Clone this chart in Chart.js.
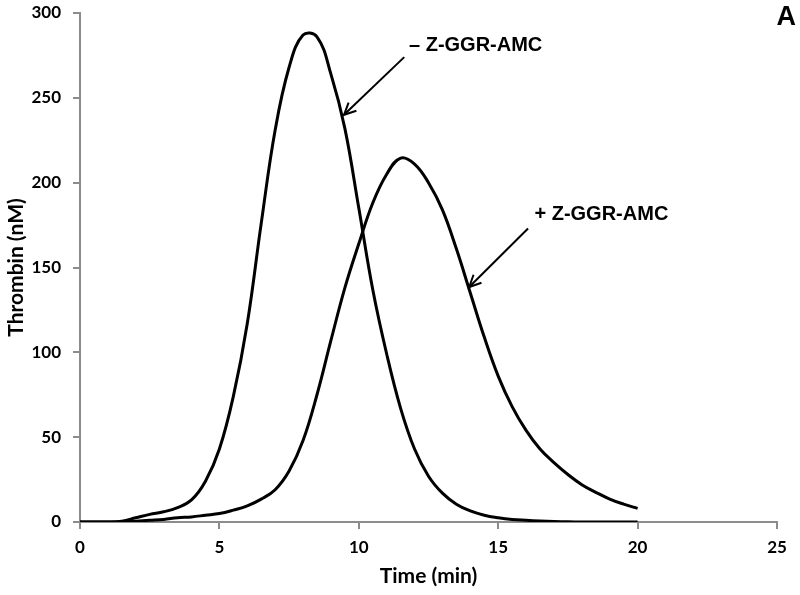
<!DOCTYPE html>
<html>
<head>
<meta charset="utf-8">
<script src="https://cdn.jsdelivr.net/npm/chart.js@4.4.0/dist/chart.umd.min.js"></script>
<style>
  html, body { margin: 0; padding: 0; background: #fff; }
  #wrap { width: 800px; height: 595px; }
</style>
</head>
<body>
<div id="wrap"><canvas id="myChart" width="800" height="595"></canvas></div>
<script>
// time (min), one reading every half minute, shared by both curves
const timeMin = [0, 0.5, 1, 1.5, 2, 2.5, 3, 3.5, 4, 4.5, 5, 5.5, 6, 6.5, 7, 7.5, 8, 8.5, 9, 9.5, 10, 10.5, 11, 11.5, 12, 12.5, 13, 13.5, 14, 14.5, 15, 15.5, 16, 16.5, 17, 17.5, 18, 18.5, 19, 19.5, 20];
// thrombin (nM) without substrate
const thrombinMinus = [0, 0, 0, 0.5, 2.5, 4.5, 6, 8.5, 13, 24, 43, 74, 117, 176, 231, 268, 287, 286, 264, 232, 185, 137, 99, 67, 43, 27, 17, 10.5, 6.5, 4, 2.5, 1.5, 1, 0.6, 0.3, 0.1, 0, 0, 0, 0, 0];
// thrombin (nM) with substrate
const thrombinPlus = [0, 0, 0, 0, 0.5, 1, 1.5, 2.5, 3, 4, 5, 7, 9.5, 13.5, 19, 30, 48, 75, 107, 138, 164, 188, 205, 214.5, 211, 200, 184, 161, 135, 109, 86, 68, 54, 43, 35, 28, 22, 17.5, 13.5, 10.5, 8];

const xTicks = [0, 5, 10, 15, 20, 25];
const yTicks = [0, 50, 100, 150, 200, 250, 300];

// arrow labels, placed in data units
const notes = [
  { text: '\u2013 Z-GGR-AMC', at: [11.8, 281], tail: [11.63, 274], tip: [9.47, 240] },
  { text: '+ Z-GGR-AMC', at: [16.3, 181], tail: [16.07, 173], tip: [13.96, 138.5] }
];
const panelLetter = 'A';

const toPoints = ys => timeMin.map((x, i) => ({ x: x, y: ys[i] }));

const axisGrey = '#8c8c8c';
const tickFont = { family: 'Lato', weight: 'bold', size: 17 };
const titleFont = { family: 'Lato', weight: 'bold', size: 21 };

const notesPlugin = {
  id: 'notes',
  afterDraw(chart) {
    const ctx = chart.ctx;
    const xs = chart.scales.x, ys = chart.scales.y;
    ctx.save();
    ctx.fillStyle = '#000';
    ctx.strokeStyle = '#000';
    ctx.lineWidth = 2;
    ctx.font = 'bold 20px "Liberation Sans", Arial, sans-serif';
    ctx.textBaseline = 'middle';
    ctx.textAlign = 'left';
    notes.forEach(n => {
      ctx.fillText(n.text, xs.getPixelForValue(n.at[0]), ys.getPixelForValue(n.at[1]));
      const x1 = xs.getPixelForValue(n.tail[0]), y1 = ys.getPixelForValue(n.tail[1]);
      const x2 = xs.getPixelForValue(n.tip[0]), y2 = ys.getPixelForValue(n.tip[1]);
      ctx.beginPath();
      ctx.moveTo(x1, y1);
      ctx.lineTo(x2, y2);
      ctx.stroke();
      const ang = Math.atan2(y2 - y1, x2 - x1);
      const len = 13, spread = Math.PI / 7;
      ctx.beginPath();
      ctx.moveTo(x2 - len * Math.cos(ang - spread), y2 - len * Math.sin(ang - spread));
      ctx.lineTo(x2, y2);
      ctx.lineTo(x2 - len * Math.cos(ang + spread), y2 - len * Math.sin(ang + spread));
      ctx.stroke();
    });
    ctx.font = 'bold 27px "Liberation Sans", Arial, sans-serif';
    ctx.textAlign = 'right';
    ctx.fillText(panelLetter, chart.width - 4, 18);
    ctx.restore();
  }
};

const ctx = document.getElementById('myChart').getContext('2d');
new Chart(ctx, {
  type: 'line',
  data: {
    datasets: [
      {
        label: '- Z-GGR-AMC',
        data: toPoints(thrombinMinus),
        borderColor: '#000',
        borderWidth: 3,
        pointRadius: 0,
        fill: false,
        tension: 0.4
      },
      {
        label: '+ Z-GGR-AMC',
        data: toPoints(thrombinPlus),
        borderColor: '#000',
        borderWidth: 3,
        pointRadius: 0,
        fill: false,
        tension: 0.4
      }
    ]
  },
  options: {
    responsive: false,
    animation: false,
    layout: { padding: { top: 13, right: 23, left: 0, bottom: 0 } },
    plugins: {
      legend: { display: false },
      tooltip: { enabled: false }
    },
    scales: {
      x: {
        type: 'linear',
        min: 0,
        max: 25,
        afterBuildTicks: s => { s.ticks = xTicks.map(v => ({ value: v })); },
        afterFit: s => { s.height = 73; s.paddingLeft = 0; s.paddingRight = 0; },
        grid: { drawOnChartArea: false, drawTicks: true, tickLength: 7, color: axisGrey, lineWidth: 2 },
        border: { color: axisGrey, width: 2 },
        ticks: { color: '#000', font: tickFont, padding: 8, maxRotation: 0 },
        title: { display: true, text: 'Time (min)', color: '#000', font: titleFont, padding: { top: 0, bottom: 6 } }
      },
      y: {
        min: 0,
        max: 300,
        afterBuildTicks: s => { s.ticks = yTicks.map(v => ({ value: v })); },
        afterFit: s => { s.width = 80; s.paddingTop = 0; s.paddingBottom = 0; },
        grid: { drawOnChartArea: false, drawTicks: true, tickLength: 7, color: axisGrey, lineWidth: 2 },
        border: { color: axisGrey, width: 2 },
        ticks: { color: '#000', font: tickFont, padding: 12 },
        title: { display: true, text: 'Thrombin (nM)', color: '#000', font: titleFont, padding: { top: 4, bottom: 0 } }
      }
    }
  },
  plugins: [notesPlugin]
});
</script>
</body>
</html>
